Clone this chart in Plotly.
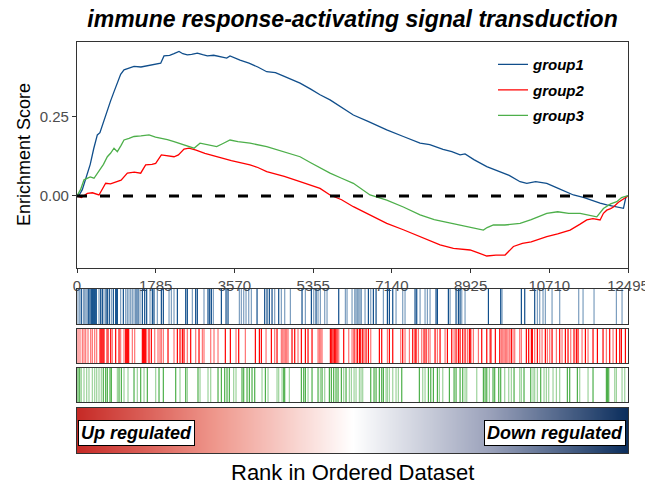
import plotly.graph_objects as go

# ---------------- data ----------------
title_text = "immune response-activating signal transduction"
group_names = ["group1", "group2", "group3"]
group_colors = ["#104E8B", "#FF0000", "#4DAF4A"]
group_light = ["rgba(16,78,139,0.55)", "rgba(255,0,0,0.55)", "rgba(77,175,74,0.55)"]
n_genes = 12495
x_ticks = [0, 1785, 3570, 5355, 7140, 8925, 10710, 12495]
x_tick_labels = ["0", "1785", "3570", "5355", "7140", "8925", "10710", "12495"]

g1_rank = [0, 60, 120, 234, 300, 380, 461, 520, 600, 688, 760, 840, 915, 990, 1066, 1180, 1293, 1450,
           1595, 1750, 1898, 1973, 2100, 2200, 2313, 2400, 2502, 2600, 2729, 2850, 2956, 3100, 3250,
           3395, 3470, 3600, 3697, 3900, 4100, 4302, 4500, 4700, 4900, 5058, 5300, 5511, 5738, 6000,
           6267, 6600, 7024, 7400, 7780, 8000, 8300, 8500, 8687, 8800, 9000, 9292, 9600, 9800, 10048,
           10200, 10400, 10653, 10900, 11258, 11500, 11862, 12014, 12200, 12392, 12450, 12495]
g1_es = [0, 0.005, 0.02, 0.072, 0.10, 0.15, 0.193, 0.20, 0.235, 0.272, 0.30, 0.33, 0.357, 0.385, 0.399,
         0.405, 0.41, 0.408, 0.412, 0.418, 0.42, 0.443, 0.445, 0.45, 0.457, 0.45, 0.446, 0.448, 0.452,
         0.447, 0.443, 0.445, 0.44, 0.436, 0.443, 0.435, 0.430, 0.42, 0.408, 0.393, 0.39, 0.378, 0.366,
         0.357, 0.338, 0.320, 0.304, 0.28, 0.256, 0.236, 0.209, 0.188, 0.167, 0.162, 0.147, 0.14, 0.13,
         0.133, 0.115, 0.093, 0.075, 0.065, 0.045, 0.040, 0.045, 0.040, 0.025, 0.003, -0.005, -0.023,
         -0.028, -0.033, -0.039, -0.002, 0]

g2_rank = [0, 100, 234, 350, 499, 560, 650, 760, 915, 1000, 1142, 1300, 1444, 1557, 1700, 1784, 1913,
           2050, 2200, 2300, 2427, 2540, 2700, 2900, 3168, 3500, 3923, 4100, 4302, 4700, 5058, 5300,
           5511, 5738, 6000, 6267, 6600, 7024, 7400, 7780, 8000, 8233, 8536, 8914, 9100, 9292, 9500,
           9708, 9897, 10100, 10300, 10426, 10653, 10900, 11182, 11400, 11560, 11700, 11862, 11938,
           12014, 12100, 12165, 12279, 12350, 12440, 12495]
g2_es = [0, -0.005, 0.008, 0.01, 0.003, 0.02, 0.04, 0.038, 0.045, 0.05, 0.072, 0.075, 0.072, 0.098,
         0.1, 0.103, 0.13, 0.128, 0.124, 0.13, 0.148, 0.151, 0.145, 0.135, 0.124, 0.112, 0.098, 0.09,
         0.077, 0.062, 0.045, 0.035, 0.024, 0.003, -0.012, -0.034, -0.058, -0.087, -0.107, -0.129,
         -0.14, -0.155, -0.166, -0.171, -0.18, -0.19, -0.187, -0.187, -0.16, -0.15, -0.145, -0.139,
         -0.129, -0.12, -0.108, -0.09, -0.076, -0.072, -0.076, -0.055, -0.045, -0.04, -0.035, -0.02,
         -0.013, -0.003, 0]

g3_rank = [0, 80, 159, 300, 386, 537, 600, 688, 760, 839, 915, 1000, 1066, 1180, 1293, 1450, 1633,
           1780, 1898, 2050, 2200, 2400, 2654, 2790, 2956, 3168, 3300, 3470, 3650, 3923, 4302, 4700,
           5058, 5300, 5511, 5738, 6000, 6267, 6645, 7024, 7400, 7780, 8100, 8536, 8900, 9216, 9300,
           9443, 9700, 10048, 10300, 10500, 10653, 10900, 11150, 11409, 11600, 11787, 11938, 12100,
           12241, 12350, 12420, 12495]
g3_es = [0, 0.02, 0.051, 0.06, 0.056, 0.088, 0.10, 0.124, 0.135, 0.151, 0.140, 0.16, 0.177, 0.182,
         0.188, 0.19, 0.193, 0.186, 0.183, 0.178, 0.172, 0.163, 0.151, 0.167, 0.162, 0.156, 0.165,
         0.177, 0.172, 0.167, 0.156, 0.14, 0.124, 0.105, 0.088, 0.072, 0.056, 0.040, 0.003, -0.013,
         -0.035, -0.06, -0.075, -0.087, -0.097, -0.108, -0.1, -0.092, -0.092, -0.087, -0.075, -0.065,
         -0.055, -0.05, -0.055, -0.055, -0.06, -0.066, -0.04, -0.025, -0.018, -0.005, -0.002, 0]

# gene-set hit positions (dark = strong, light = faint)
g1_hits_dark = [98, 265, 295, 325, 348, 370, 393, 415, 438, 537, 575, 658, 688, 733, 824, 877, 900, 915,
                1051, 1338, 1384, 1482, 1535, 1580, 1709, 1746, 1913, 1958, 2276, 2465, 2502, 2691,
                2729, 2971, 3009, 3047, 3274, 3380, 3425, 4083, 4256, 4309, 4362, 4423, 4574, 5103,
                5315, 5421, 5935, 6608, 6721, 6782, 7039, 7084, 7160, 7666, 7704, 8142, 8173, 8422,
                8596, 8649, 8687, 9330, 9608, 10077, 10153, 10379]
g1_hits_light = [23, 61, 144, 174, 204, 234, 499, 612, 779, 990, 1104, 1142, 1179, 1217, 1255, 1293,
                 1429, 1656, 1822, 2087, 2140, 2200, 2616, 2880, 3092, 3682, 3727, 3780, 3833, 3894,
                 3954, 4483, 4634, 4710, 4839, 5179, 5368, 5466, 5519, 5617, 5670, 6086, 6124, 6237,
                 6298, 6328, 6358, 6389, 6419, 6449, 6532, 6661, 6948, 7235, 7386, 7439, 7780, 7893,
                 7946, 8006, 8460, 8725, 8800, 9639, 10440, 10493, 10568, 10621, 10773, 10946, 11377,
                 11476, 11725, 12232, 12360]

g2_hits_dark = [522, 545, 567, 590, 612, 703, 764, 877, 953, 1104, 1127, 1149, 1172, 1482, 1505, 1527,
                1550, 1633, 1686, 2064, 2276, 2336, 2389, 2427, 2578, 2767, 3364, 3478, 3667, 4045,
                4136, 4181, 4408, 4536, 4876, 4937, 5088, 5179, 5239, 5330, 5746, 5776, 5806, 5836,
                5867, 5897, 6048, 6283, 6358, 6404, 6434, 6479, 6555, 6608, 6857, 6910, 7084, 7160,
                7386, 7613, 7666, 7689, 7870, 7916, 8120, 8233, 8400, 8498, 8596, 8649, 8687, 8747,
                8800, 8898, 8929, 9178, 9292, 9370, 9487, 9586, 9850, 10190, 10243, 10304, 10326,
                10440, 10621, 10773, 10946, 11075, 11135, 11271, 11324, 11362, 11529, 11702, 11801,
                11929, 12080, 12232, 12307, 12345, 12436]
g2_hits_light = [23, 68, 121, 159, 197, 250, 310, 348, 401, 446, 673, 801, 990, 1066, 1255, 1308, 1580,
                 1762, 1837, 1882, 1913, 1958, 2200, 2502, 2691, 2843, 2880, 3032, 3107, 3198, 3606,
                 3818, 4287, 4483, 4634, 4665, 4695, 4725, 4755, 4786, 5012, 5466, 5496, 5527, 5557,
                 5935, 6162, 6237, 6328, 6510, 6661, 7039, 7341, 7439, 7538, 7742, 7817, 7969, 8006,
                 8173, 8347, 8551, 8853, 8989, 9103, 9397, 9623, 9654, 9684, 9714, 9744, 9775, 9812,
                 9888, 9926, 10039, 10077, 10379, 10493, 10546, 10667, 10720, 10871, 10999, 11196,
                 11453, 11589, 12005, 12156]

g3_hits_dark = [23, 61, 597, 650, 688, 748, 779, 953, 1006, 1293, 1444, 1595, 1860, 1958, 2238, 2465,
                2744, 3198, 3274, 3349, 3402, 3455, 3742, 3780, 3856, 3909, 3969, 4030, 4272, 4687,
                4710, 5088, 5141, 5179, 5330, 5466, 5557, 5723, 5768, 5821, 5874, 5920, 5995, 6101,
                6661, 6736, 6782, 6857, 6910, 6948, 7364, 7764, 7969, 8022, 8082, 8173, 8445, 8551,
                8596, 8687, 8747, 9216, 9254, 9292, 9434, 9472, 9563, 9608, 9911, 10137, 10289,
                10515, 11120, 11173, 11347, 11702, 12005, 12028, 12058]
g3_hits_light = [98, 159, 219, 272, 348, 401, 446, 499, 552, 915, 1066, 1157, 1368, 1520, 1784, 2336,
                 2502, 2790, 2971, 3032, 3553, 3606, 4196, 4332, 4536, 4574, 4650, 4816, 5239, 5519,
                 5617, 6048, 6177, 6222, 6283, 6328, 6404, 6441, 6479, 7008, 7039, 7084, 7160, 7235,
                 7288, 7840, 7893, 8218, 8294, 8800, 8838, 9065, 9352, 9699, 9790, 9850, 10039, 10077,
                 10342, 10379, 10440, 10591, 10644, 10697, 10795, 10871, 10946, 11400, 11589, 12194,
                 12232, 12360, 12421]

gradient_ranks = list(range(0, n_genes, 125)) + [n_genes]
gradient_colorscale = [[0.0, "#C62A26"], [0.25, "#EF978C"], [0.5, "#FFFFFF"],
                       [0.75, "#9AA1BA"], [1.0, "#0A2D5C"]]

# ---------------- figure ----------------
FONT = "Liberation Sans, Arial, sans-serif"
W, H = 645, 498
fig = go.Figure()

curves = [(g1_rank, g1_es), (g2_rank, g2_es), (g3_rank, g3_es)]
for i, (rx, ry) in enumerate(curves):
    fig.add_trace(go.Scatter(x=rx, y=ry, mode="lines", name=group_names[i],
                             line=dict(color=group_colors[i], width=1.3),
                             legendgroup=group_names[i], xaxis="x", yaxis="y"))

fig.add_trace(go.Scatter(x=[0, n_genes], y=[0, 0], mode="lines", showlegend=False,
                         line=dict(color="black", width=3, dash="10px,13px"),
                         xaxis="x", yaxis="y", hoverinfo="skip"))


def segs(ranks):
    xs, ys = [], []
    for r in ranks:
        xs += [r, r, None]
        ys += [0, 1, None]
    return xs, ys


hits = [(g1_hits_dark, g1_hits_light), (g2_hits_dark, g2_hits_light), (g3_hits_dark, g3_hits_light)]
for i, (hd, hl) in enumerate(hits):
    ax = str(i + 2)
    xs, ys = segs(hl)
    fig.add_trace(go.Scatter(x=xs, y=ys, mode="lines", showlegend=False,
                             line=dict(color=group_light[i], width=1.2),
                             xaxis="x" + ax, yaxis="y" + ax, hoverinfo="skip"))
    xs, ys = segs(hd)
    fig.add_trace(go.Scatter(x=xs, y=ys, mode="lines", showlegend=False,
                             line=dict(color=group_colors[i], width=1.2),
                             xaxis="x" + ax, yaxis="y" + ax, hoverinfo="skip"))

fig.add_trace(go.Heatmap(x=gradient_ranks, y=[0, 1], z=[gradient_ranks, gradient_ranks],
                         colorscale=gradient_colorscale, showscale=False, zsmooth="best",
                         xaxis="x5", yaxis="y5", hoverinfo="skip"))

frame = dict(showline=True, mirror=True, linecolor="#333333", linewidth=1.2,
             showgrid=False, zeroline=False, automargin=False)
doms = {"y": [0.4501, 1.0], "y2": [0.3139, 0.3990], "y3": [0.2190, 0.3017],
        "y4": [0.1241, 0.2068], "y5": [0.0, 0.1095]}

layout = dict(
    width=W, height=H,
    margin=dict(l=77, r=17, t=42, b=45, autoexpand=False),
    paper_bgcolor="white", plot_bgcolor="white",
    font=dict(family=FONT, color="black"),
    showlegend=True,
    title=dict(text=title_text, x=0.5, xref="paper", xanchor="center",
               y=1 - 19 / H, yref="container", yanchor="middle",
               font=dict(family=FONT, size=23, weight="bold", style="italic", color="black")),
    legend=dict(x=0.755, y=0.985, xanchor="left", yanchor="top", bgcolor="rgba(0,0,0,0)",
                font=dict(family=FONT, size=15, weight="bold", style="italic", color="black"),
                tracegroupgap=3, itemwidth=30),
    xaxis=dict(frame, range=[0, n_genes], anchor="y", tickvals=x_ticks, ticktext=x_tick_labels,
               ticks="outside", ticklen=4, tickcolor="#333333", ticklabeloverflow="allow",
               tickfont=dict(size=15, color="#4D4D4D")),
    yaxis=dict(frame, range=[-0.228, 0.487], domain=doms["y"], anchor="x",
               tickvals=[0, 0.25], ticktext=["0.00", "0.25"], ticks="outside", ticklen=4,
               tickcolor="#333333", tickfont=dict(size=15, color="#4D4D4D")),
)
for k in ["2", "3", "4", "5"]:
    layout["xaxis" + k] = dict(frame, range=[0, n_genes], anchor="y" + k, showticklabels=False,
                               ticks="")
    layout["yaxis" + k] = dict(frame, range=[0, 1], domain=doms["y" + k], anchor="x" + k,
                               showticklabels=False, ticks="")
fig.update_layout(**layout)

lab_font = dict(family=FONT, size=18, weight="bold", style="italic", color="black")
fig.add_annotation(x=0, y=0.45, xref="x5", yref="y5", text="Up regulated", showarrow=False,
                   xanchor="left", yanchor="middle", bgcolor="white", bordercolor="black",
                   borderwidth=1, borderpad=2, font=lab_font, xshift=1)
fig.add_annotation(x=n_genes, y=0.45, xref="x5", yref="y5", text="Down regulated", showarrow=False,
                   xanchor="right", yanchor="middle", bgcolor="white", bordercolor="black",
                   borderwidth=1, borderpad=2, font=lab_font, xshift=-2)
fig.add_annotation(x=0.5, y=(453 - 472) / 411, xref="paper", yref="paper",
                   text="Rank in Ordered Dataset", showarrow=False, xanchor="center",
                   yanchor="middle", font=dict(family=FONT, size=22, color="black"))
fig.add_annotation(x=(24 - 77) / 551, y=(453 - 155) / 411, xref="paper", yref="paper",
                   text="Enrichment Score", showarrow=False, textangle=-90, xanchor="center",
                   yanchor="middle", font=dict(family=FONT, size=18, color="black"))

fig.write_html("out.html", config={"displayModeBar": False},
               post_script="document.body.style.margin='0';document.body.style.overflow='hidden';")
